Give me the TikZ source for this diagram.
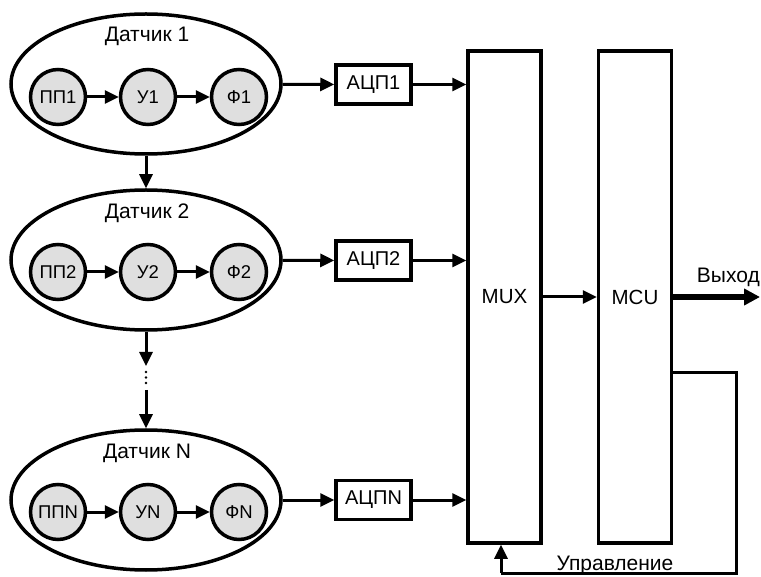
\documentclass[tikz,border=0pt]{standalone}
\usepackage{fontspec}
\setmainfont{Liberation Sans}
\usetikzlibrary{shapes.geometric,arrows.meta}
\tikzset{
  sensor/.style={draw,ellipse,line width=3.5pt,minimum width=270pt,minimum height=140pt,inner sep=0pt},
  stage/.style={draw,circle,line width=3.5pt,fill=gray!25,minimum size=55pt,inner sep=0pt,font=\fontsize{18.5}{20}\selectfont},
  adc/.style={draw,line width=3.5pt,minimum width=75pt,minimum height=39pt,inner sep=0pt,font=\fontsize{20}{22}\selectfont},
  unit/.style={draw,line width=3.5pt,minimum width=73pt,minimum height=492pt,inner sep=0pt,font=\fontsize{20.5}{22}\selectfont},
  arr/.style={-{Triangle[length=14pt,width=13pt]},line width=3pt},
}
\begin{document}
\begin{tikzpicture}[x=1pt,y=-1pt,every node/.style={font=\fontsize{21}{23}\selectfont}]
    \useasboundingbox (0,0) rectangle (761,577);
    % sensor 1
    \node[sensor] (s1) at (146,84) {};
    \node (t1) at (147,36) {Датчик 1};
    \node[stage] (p1) at (58,97) {ПП1};
    \node[stage] (u1) at (148,97) {У1};
    \node[stage] (f1) at (239,97) {Ф1};
    \draw[arr] (p1) -- (u1);
    \draw[arr] (u1) -- (f1);
    % sensor 2
    \node[sensor] (s2) at (146,260) {};
    \node (t2) at (147,213) {Датчик 2};
    \node[stage] (p2) at (58,272) {ПП2};
    \node[stage] (u2) at (148,272) {У2};
    \node[stage] (f2) at (239,272) {Ф2};
    \draw[arr] (p2) -- (u2);
    \draw[arr] (u2) -- (f2);
    % sensor N
    \node[sensor] (sN) at (146,500) {};
    \node (tN) at (147,453) {Датчик N};
    \node[stage] (pN) at (58,512) {ППN};
    \node[stage] (uN) at (148,512) {УN};
    \node[stage] (fN) at (239,512) {ФN};
    \draw[arr] (pN) -- (uN);
    \draw[arr] (uN) -- (fN);
    % chain between sensors
    \draw[arr] (s1) -- (s2);
    \coordinate (d1) at (146,366);
    \coordinate (d2) at (146,390);
    \draw[arr] (s2) -- (d1);
    \fill (146,372) circle (1.3) (146,377.5) circle (1.3) (146,383) circle (1.3);
    \draw[arr] (d2) -- (sN);
    % converters
    \node[adc] (a1) at (373.5,84.5) {АЦП1};
    \node[adc] (a2) at (373.5,260.5) {АЦП2};
    \node[adc] (aN) at (373.5,500) {АЦПN};
    \node[unit] (mux) at (504.5,297) {MUX};
    \node[unit] (mcu) at (635,297) {MCU};
    \draw[arr] (s1) -- (a1);
    \draw[arr] (s2) -- (a2);
    \draw[arr] (sN) -- (aN);
    \draw[arr] (a1) -- (a1 -| mux.west);
    \draw[arr] (a2) -- (a2 -| mux.west);
    \draw[arr] (aN) -- (aN -| mux.west);
    \draw[arr] (mux) -- (mcu);
    % output and control
    \coordinate (out) at (760,297);
    \draw[-{Triangle[length=16pt,width=16pt]},line width=6pt] (mcu) -- (out);
    \node[anchor=east,inner sep=1pt] (outl) at (761,277) {Выход};
    \coordinate (c1) at (736,373);
    \coordinate (c2) at (736,573);
    \coordinate (c3) at (501,573);
    \draw[line width=3pt] (c1 -| mcu.east) -- (c1) -- (c2) -- (c3);
    \draw[arr] (c3) -- (c3 |- mux.south);
    \node[anchor=base] (ctl) at (615,570) {Управление};
\end{tikzpicture}
\end{document}
